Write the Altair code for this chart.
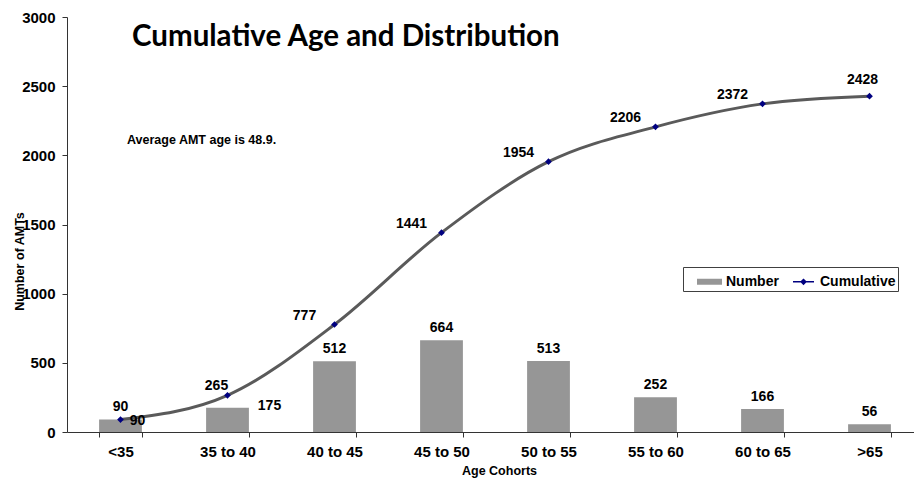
import altair as alt
import pandas as pd

# ---- data -----------------------------------------------------------------
cohorts = ["<35", "35 to 40", "40 to 45", "45 to 50", "50 to 55",
           "55 to 60", "60 to 65", ">65"]
number = [90, 175, 512, 664, 513, 252, 166, 56]
cumulative = [90, 265, 777, 1441, 1954, 2206, 2372, 2428]
y_ticks = [0, 500, 1000, 1500, 2000, 2500, 3000]
series_names = ["Number", "Cumulative"]
series_colors = ["#969696", "#000080"]
note_text = ["Average AMT age is 48.9."]

df = pd.DataFrame({"cohort": cohorts, "number": number, "cumulative": cumulative})

FONT = "Liberation Sans"
BAR_GREY = "#969696"
LINE_GREY = "#5a5a5a"
NAVY = "#000080"
AXIS_COL = "#333333"

# band scale wider than the visible area so the last cohort runs off the edge
x_scale = alt.Scale(domain=cohorts, range=[0, 856], paddingInner=0.6, paddingOuter=0.3)
y_scale = alt.Scale(domain=[0, 3000], nice=False)

x_axis = alt.Axis(
    title="Age Cohorts", labelAngle=0, tickBand="extent", tickSize=5,
    labelPadding=7, labelFont=FONT, labelFontSize=15, labelFontWeight="bold",
    labelColor="black", titleFont=FONT, titleFontSize=12.5, titleFontWeight="bold",
    titleColor="black", titleX=432, titleY=38, titleBaseline="middle",
    domainColor=AXIS_COL, tickColor=AXIS_COL,
)
y_axis = alt.Axis(
    values=y_ticks, format="d", title="Number of AMTs", tickSize=5, labelPadding=7,
    labelFont=FONT, labelFontSize=15, labelFontWeight="bold", labelColor="black",
    titleFont=FONT, titleFontSize=12.5, titleFontWeight="bold", titleColor="black",
    titleX=-48, titleY=244, titleBaseline="middle",
    domainColor=AXIS_COL, tickColor=AXIS_COL,
)


def xenc(axis=None):
    if axis is None:
        return alt.X("cohort:N", scale=x_scale, bandPosition=0.5)
    return alt.X("cohort:N", scale=x_scale, axis=axis)


def yenc(field):
    return alt.Y(f"{field}:Q", scale=y_scale, axis=y_axis, title="Number of AMTs")


base = alt.Chart(df)

bars = base.mark_bar(color=BAR_GREY).encode(x=xenc(x_axis), y=yenc("number"))

curve = base.mark_line(interpolate="monotone", color=LINE_GREY, strokeWidth=3).encode(
    x=xenc(), y=yenc("cumulative")
)

points = base.mark_point(filled=True, shape="diamond", size=45, color=NAVY, opacity=1).encode(
    x=xenc(), y=yenc("cumulative")
)


def value_labels(field, subset, dx, dy):
    return (
        base.transform_filter(alt.FieldOneOfPredicate(field="cohort", oneOf=subset))
        .mark_text(dx=dx, dy=dy, font=FONT, fontSize=14, fontWeight="bold",
                   baseline="middle", align="center", color="black")
        .encode(x=xenc(), y=yenc(field), text=alt.Text(f"{field}:Q"))
    )


label_layers = [
    value_labels("number", cohorts[2:], 0, -12),
    value_labels("number", cohorts[:1], 17, 1),
    value_labels("number", cohorts[1:2], 42, -2),
    value_labels("cumulative", cohorts[:1], 0, -13),
    value_labels("cumulative", cohorts[1:2], -11, -9),
    value_labels("cumulative", cohorts[2:7], -30, -9),
    value_labels("cumulative", cohorts[7:], -7, -16),
]

note = alt.Chart(pd.DataFrame({"note": note_text})).mark_text(
    align="left", baseline="middle", font=FONT, fontSize=12.5, fontWeight="bold", color="black"
).encode(x=alt.value(60), y=alt.value(123), text="note:N")

# legend keys: grey bar swatch and navy line-with-diamond
bar_key = "M-1,-0.24H1V0.24H-1Z"
line_key = "M-0.84,-0.06H0.84V0.06H-0.84Z M0,-0.27L0.27,0L0,0.27L-0.27,0Z"
legend_props = dict(
    orient="none", legendX=616, legendY=250, direction="horizontal", title=None,
    labelFont=FONT, labelFontSize=14, labelFontWeight="bold", labelColor="black",
    symbolSize=625, symbolStrokeWidth=0, strokeColor="#404040", fillColor="white",
    padding=2, symbolOffset=12, columnPadding=0, labelOffset=4,
)
keys = alt.Chart(pd.DataFrame({"series": series_names})).transform_filter("false").mark_point(
    filled=True, opacity=1
).encode(
    color=alt.Color("series:N", scale=alt.Scale(domain=series_names, range=series_colors),
                    legend=alt.Legend(**legend_props)),
    shape=alt.Shape("series:N", scale=alt.Scale(domain=series_names, range=[bar_key, line_key]),
                    legend=alt.Legend(**legend_props)),
)

chart = (
    alt.layer(bars, curve, points, *label_layers, note, keys)
    .properties(
        width=847,
        height=415,
        autosize=alt.AutoSizeParams(type="none"),
        padding={"left": 67, "top": 17, "right": 0, "bottom": 46},
        title=alt.TitleParams(
            text="Cumulative Age and Distribution", anchor="start", frame="group",
            dx=65, offset=-65, font="Lato", fontSize=29.5, fontWeight="bold",
            color="black", baseline="alphabetic",
        ),
    )
    .configure_view(stroke=None)
    .configure_axis(grid=False)
)

chart.save("out.html", embed_options={"renderer": "svg", "actions": False})
